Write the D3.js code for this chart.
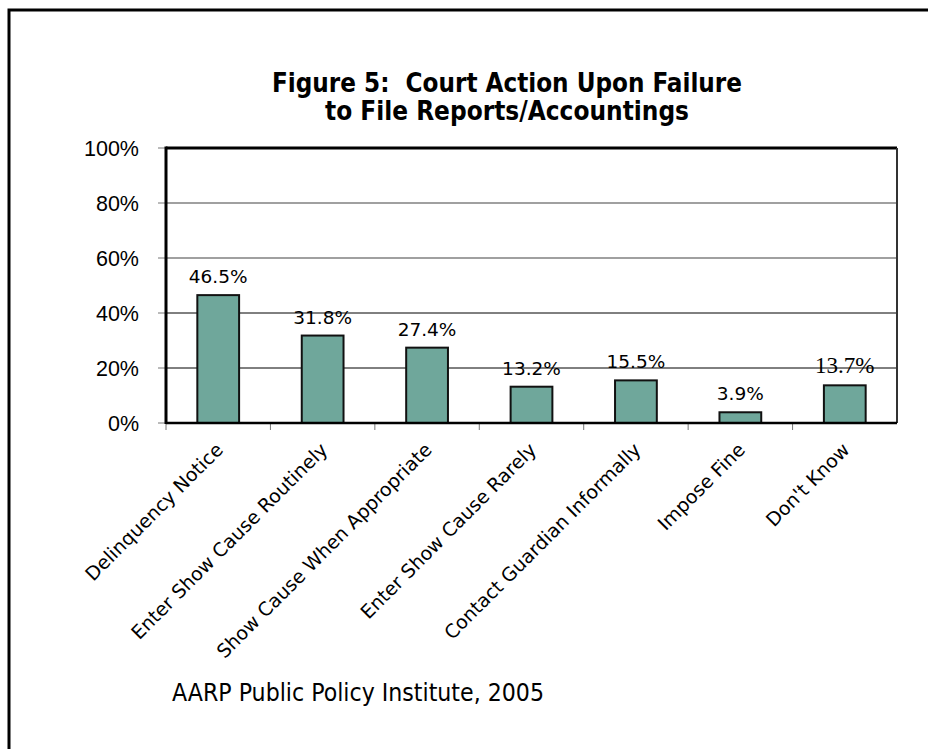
<!DOCTYPE html>
<html>
<head>
<meta charset="utf-8">
<script src="https://cdn.jsdelivr.net/npm/d3@7"></script>
<style>
  body { margin: 0; background: #fff; }
  svg { display: block; }
</style>
</head>
<body>
<div class="chart"></div>
<script>
const categories = [
  'Delinquency Notice',
  'Enter Show Cause Routinely',
  'Show Cause When Appropriate',
  'Enter Show Cause Rarely',
  'Contact Guardian Informally',
  'Impose Fine',
  "Don't Know"
];
const values = [0.465, 0.318, 0.274, 0.132, 0.155, 0.039, 0.137];
const valueLabels = ['46.5%', '31.8%', '27.4%', '13.2%', '15.5%', '3.9%', '13.7%'];
const yTicks = [0, 0.2, 0.4, 0.6, 0.8, 1];
const yTickLabels = ['0%', '20%', '40%', '60%', '80%', '100%'];
const titleLines = ['Figure 5:  Court Action Upon Failure', 'to File Reports/Accountings'];
const source = 'AARP Public Policy Institute, 2005';

const width = 928;
const height = 749;
const plot = {left: 166, right: 897, top: 148, bottom: 423};

const svg = d3.select('.chart')
  .append('svg')
    .attr('width', width)
    .attr('height', height);

// outer frame (runs off the right and bottom edges)
svg.append('rect')
  .attr('x', 9)
  .attr('y', 10)
  .attr('width', 960)
  .attr('height', 800)
  .attr('fill', 'none')
  .attr('stroke', '#000')
  .attr('stroke-width', 3);

const x = d3.scaleBand()
  .domain(categories)
  .range([plot.left, plot.right])
  .paddingInner(0.6)
  .paddingOuter(0.3);

const y = d3.scaleLinear()
  .domain([0, 1])
  .range([plot.bottom, plot.top]);

// gridlines
svg.selectAll('line.grid')
  .data(yTicks.filter(d => d > 0 && d < 1))
  .enter()
  .append('line')
    .attr('class', 'grid')
    .attr('x1', plot.left)
    .attr('x2', plot.right)
    .attr('y1', d => y(d))
    .attr('y2', d => y(d))
    .attr('stroke', d => d > 0.5 ? '#808080' : '#000')
    .attr('stroke-width', d => d > 0.5 ? 1.5 : 1);

// y ticks + labels
svg.selectAll('line.ytick')
  .data(yTicks)
  .enter()
  .append('line')
    .attr('class', 'ytick')
    .attr('x1', plot.left - 8)
    .attr('x2', plot.left)
    .attr('y1', d => y(d))
    .attr('y2', d => y(d))
    .attr('stroke', '#777')
    .attr('stroke-width', 1);

svg.selectAll('text.ylab')
  .data(yTicks)
  .enter()
  .append('text')
    .attr('class', 'ylab')
    .attr('x', 139)
    .attr('y', d => y(d))
    .attr('dy', '0.36em')
    .attr('text-anchor', 'end')
    .attr('font-family', '"Liberation Sans", Arial, sans-serif')
    .attr('font-size', '21.5px')
    .text((d, i) => yTickLabels[i]);

// x boundary ticks
const gap = (x.step() - x.bandwidth()) / 2;
svg.selectAll('line.xtick')
  .data(categories)
  .enter()
  .append('line')
    .attr('class', 'xtick')
    .attr('x1', d => x(d) - gap)
    .attr('x2', d => x(d) - gap)
    .attr('y1', plot.bottom)
    .attr('y2', plot.bottom + 7)
    .attr('stroke', '#777')
    .attr('stroke-width', 1);

// bars
svg.selectAll('rect.bar')
  .data(values)
  .enter()
  .append('rect')
    .attr('class', 'bar')
    .attr('x', (d, i) => x(categories[i]))
    .attr('y', d => y(d))
    .attr('width', x.bandwidth())
    .attr('height', d => y(0) - y(d))
    .attr('fill', '#6fa79b')
    .attr('stroke', '#111')
    .attr('stroke-width', 2);

// frame of the plot area
svg.append('line')
  .attr('x1', plot.left).attr('x2', plot.right)
  .attr('y1', y(1)).attr('y2', y(1))
  .attr('stroke', '#000').attr('stroke-width', 3);
svg.append('line')
  .attr('x1', plot.right).attr('x2', plot.right)
  .attr('y1', y(1)).attr('y2', y(0))
  .attr('stroke', '#333').attr('stroke-width', 2);
svg.append('line')
  .attr('x1', plot.left).attr('x2', plot.right)
  .attr('y1', y(0)).attr('y2', y(0))
  .attr('stroke', '#000').attr('stroke-width', 2.5);
svg.append('line')
  .attr('x1', plot.left).attr('x2', plot.left)
  .attr('y1', y(1) - 1.5).attr('y2', y(0) + 1)
  .attr('stroke', '#000').attr('stroke-width', 3);

// value labels
svg.selectAll('text.val')
  .data(values)
  .enter()
  .append('text')
    .attr('class', 'val')
    .attr('x', (d, i) => x(categories[i]) + x.bandwidth() / 2)
    .attr('y', d => y(d) - 12)
    .attr('text-anchor', 'middle')
    .attr('font-family', (d, i) => categories[i] === "Don't Know"
      ? '"Liberation Serif", "Times New Roman", serif'
      : '"DejaVu Sans", Verdana, sans-serif')
    .attr('font-size', (d, i) => categories[i] === "Don't Know" ? '23px' : '18.5px')
    .text((d, i) => valueLabels[i]);

// category labels
svg.selectAll('text.cat')
  .data(categories)
  .enter()
  .append('text')
    .attr('class', 'cat')
    .attr('transform', d => `translate(${x(d) + x.bandwidth() / 2 + 6},${plot.bottom + 28}) rotate(-45)`)
    .attr('text-anchor', 'end')
    .attr('font-family', '"DejaVu Sans", Verdana, sans-serif')
    .attr('font-size', '19px')
    .text(d => d);

// title
svg.selectAll('text.title')
  .data(titleLines)
  .enter()
  .append('text')
    .attr('class', 'title')
    .attr('x', 507)
    .attr('y', (d, i) => 92 + i * 28)
    .attr('text-anchor', 'middle')
    .attr('font-family', '"DejaVu Sans Condensed", "Liberation Sans Narrow", "DejaVu Sans", sans-serif')
    .attr('font-stretch', 'condensed')
    .attr('font-weight', 'bold')
    .attr('font-size', '26px')
    .attr('textLength', (d, i) => i === 0 ? 470 : 364)
    .attr('lengthAdjust', 'spacingAndGlyphs')
    .style('white-space', 'pre')
    .text(d => d);

// source note
svg.append('text')
  .attr('x', 172)
  .attr('y', 701)
  .attr('font-family', '"DejaVu Sans Condensed", "Liberation Sans Narrow", "DejaVu Sans", sans-serif')
  .attr('font-stretch', 'condensed')
  .attr('font-size', '24px')
  .attr('textLength', 372)
  .attr('lengthAdjust', 'spacingAndGlyphs')
  .text(source);
</script>
</body>
</html>
